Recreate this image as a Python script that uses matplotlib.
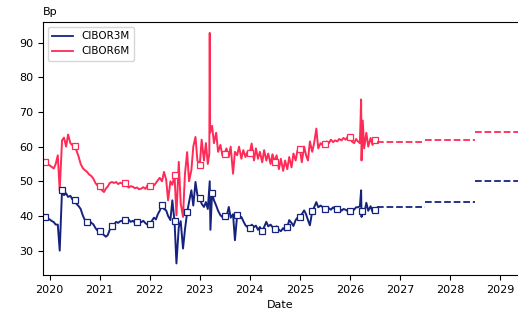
import matplotlib
matplotlib.use('Agg')
import matplotlib.pyplot as plt
import matplotlib.dates as mdates
from matplotlib.lines import Line2D
import pandas as pd

# Semi-monthly fixings (1st and 15th), Dec 2019 - Jul 2026, in basis points
dates = pd.date_range('2019-12-01', '2026-07-15', freq='SMS')

cibor3m = [
    39.8, 39.4,
    39.0, 38.6, 38.2, 37.5, 37.5, 30.0, 47.5, 46.0, 46.5, 45.5, 45.8, 44.8,
    44.5, 43.5, 42.8, 42.0, 40.0, 38.8, 38.3, 38.8, 38.0, 37.6, 36.5, 35.8,
    35.6, 35.0, 34.5, 34.0, 34.5, 36.0, 37.1, 37.5, 38.3, 38.0, 38.5, 38.6,
    38.8, 38.5, 38.9, 38.3, 38.6, 38.0, 38.3, 38.8, 38.2, 38.6, 37.9, 37.5,
    37.8, 38.5, 39.5, 39.0, 40.5, 41.5, 43.1, 42.0, 41.6, 40.0, 38.8, 44.5,
    38.5, 26.3, 36.8, 38.5, 30.6, 36.0, 41.0, 44.0, 47.4, 43.0, 49.8, 46.0,
    45.3, 43.5, 42.6, 44.0, 42.0, 50.0, 46.5, 44.5, 43.0, 41.5, 40.2, 39.7,
    40.0, 39.7, 42.6, 39.5, 40.5, 33.0, 40.2, 39.5, 39.7, 38.5, 37.3, 36.8,
    36.4, 37.5, 36.8, 37.2, 36.0, 36.8, 35.6, 36.8, 38.3, 37.0, 37.5, 36.8,
    36.2, 37.0, 36.0, 35.6, 36.5, 35.8, 36.7, 38.8, 38.0, 37.1, 38.8, 39.5,
    39.8, 40.5, 41.6, 40.5, 38.8, 37.3, 41.3, 42.5, 44.0, 42.5, 43.0, 42.6,
    41.9, 42.6, 42.2, 41.8, 42.5, 41.9, 41.9, 42.3, 41.5, 42.0, 41.8, 41.4,
    41.4, 42.0, 41.8, 42.5, 42.5, 42.8, 41.4, 40.5, 43.8, 41.5, 42.8, 41.2,
    41.6, 42.3,
]

cibor6m = [
    55.6, 55.0,
    54.6, 54.2, 53.7, 55.0, 57.5, 47.4, 61.8, 62.6, 60.0, 63.5, 61.0, 60.4,
    60.2, 58.9, 57.0, 55.0, 53.7, 53.2, 52.7, 52.0, 51.5, 50.8, 49.5, 48.8,
    48.5, 47.5, 46.9, 47.9, 48.5, 49.5, 49.8, 49.5, 49.8, 49.2, 49.6, 49.3,
    49.6, 48.8, 48.2, 48.6, 48.4, 48.0, 48.2, 47.7, 47.9, 48.3, 47.8, 48.8,
    48.6, 48.2, 48.8, 49.5, 50.3, 51.0, 50.0, 52.7, 50.5, 44.5, 50.0, 49.0,
    51.7, 40.2, 55.6, 43.6, 39.7, 52.0, 58.4, 50.0, 53.2, 60.0, 62.8, 56.0,
    54.6, 62.0, 56.0, 61.0, 55.0, 92.8, 66.0, 61.0, 64.0, 58.5, 60.5, 57.5,
    58.0, 59.5, 57.0, 60.0, 52.2, 58.5, 57.5, 60.0, 56.5, 59.0, 57.0, 58.5,
    58.2, 60.9, 56.0, 59.5, 56.5, 58.5, 55.5, 59.0, 56.0, 58.0, 55.0, 57.8,
    55.6, 57.5, 53.5, 56.5, 53.0, 56.0, 53.5, 57.0, 54.0, 58.0, 56.0, 59.0,
    59.4, 55.5, 60.0, 57.5, 56.0, 61.5, 58.5, 61.0, 65.2, 59.5, 61.0, 60.5,
    60.9, 61.5, 61.0, 62.0, 61.3, 61.8, 61.5, 62.2, 61.8, 62.5, 62.0, 62.8,
    62.8, 61.5, 61.0, 62.2, 61.5, 61.0, 62.5, 59.5, 64.0, 60.0, 62.5, 60.5,
    61.8, 62.0,
]

# single-day spikes between the semi-monthly points
spike3m_dates = ['2023-03-20', '2026-03-24', '2026-03-27']
spike3m_vals = [36.0, 47.4, 39.7]
spike6m_dates = ['2023-03-12', '2023-03-18', '2026-03-24', '2026-03-27', '2026-04-05']
spike6m_vals = [58.0, 64.0, 73.6, 56.0, 67.5]

# forward curve segments
fwd_starts = ['2026-07-15', '2027-07-05', '2028-07-05']
fwd_ends = ['2027-07-05', '2028-07-05', '2029-12-31']
fwd3m = [42.6, 44.1, 50.0]
fwd6m = [61.3, 61.9, 64.3]

c3 = '#15237f'
c6 = '#ff2a55'


def build(vals, sdates, svals):
    s = pd.Series(vals, index=dates)
    extra = pd.Series(svals, index=pd.to_datetime(sdates))
    return pd.concat([s, extra]).sort_index()


s3 = build(cibor3m, spike3m_dates, spike3m_vals)
s6 = build(cibor6m, spike6m_dates, spike6m_vals)

# marker positions: first point, then quarterly (3M) / half-yearly (6M)
first = s3.index[0] + pd.Timedelta(days=60)
mk3 = [0] + [i for i, d in enumerate(s3.index)
             if d.day == 1 and d.month in (1, 4, 7, 10) and d > first]
mk6 = [0] + [i for i, d in enumerate(s6.index)
             if d.day == 1 and d.month in (1, 7) and d > first]

fig = plt.figure(figsize=(5.18, 3.12), dpi=100)
ax = fig.add_axes([0.083, 0.119, 0.917, 0.811])

ax.plot(s6.index, s6.values, color=c6, lw=1.4, marker='s', markevery=mk6,
        mfc='white', mec=c6, ms=4.5, mew=0.9)
ax.plot(s3.index, s3.values, color=c3, lw=1.4, marker='s', markevery=mk3,
        mfc='white', mec=c3, ms=4.5, mew=0.9)

for a, b, v3, v6 in zip(fwd_starts, fwd_ends, fwd3m, fwd6m):
    ab = pd.to_datetime([a, b])
    ax.plot(ab, [v3, v3], '--', color=c3, lw=1.3)
    ax.plot(ab, [v6, v6], '--', color=c6, lw=1.3)

ax.set_xlim(pd.Timestamp('2019-11-14'), pd.Timestamp('2029-05-12'))
ax.set_ylim(23, 96)
ax.set_yticks([30, 40, 50, 60, 70, 80, 90])
ax.xaxis.set_major_locator(mdates.YearLocator())
ax.xaxis.set_major_formatter(mdates.DateFormatter('%Y'))
ax.tick_params(labelsize=8)
ax.spines['right'].set_visible(False)

ax.set_xlabel('Date', fontsize=8)
ax.text(0, 1.02, 'Bp', transform=ax.transAxes, fontsize=8, va='bottom', ha='left')

handles = [Line2D([], [], color=c3, lw=1.3), Line2D([], [], color=c6, lw=1.3)]
ax.legend(handles, ['CIBOR3M', 'CIBOR6M'], loc='upper left', fontsize=7.5)

fig.savefig('out.png', dpi=100)
